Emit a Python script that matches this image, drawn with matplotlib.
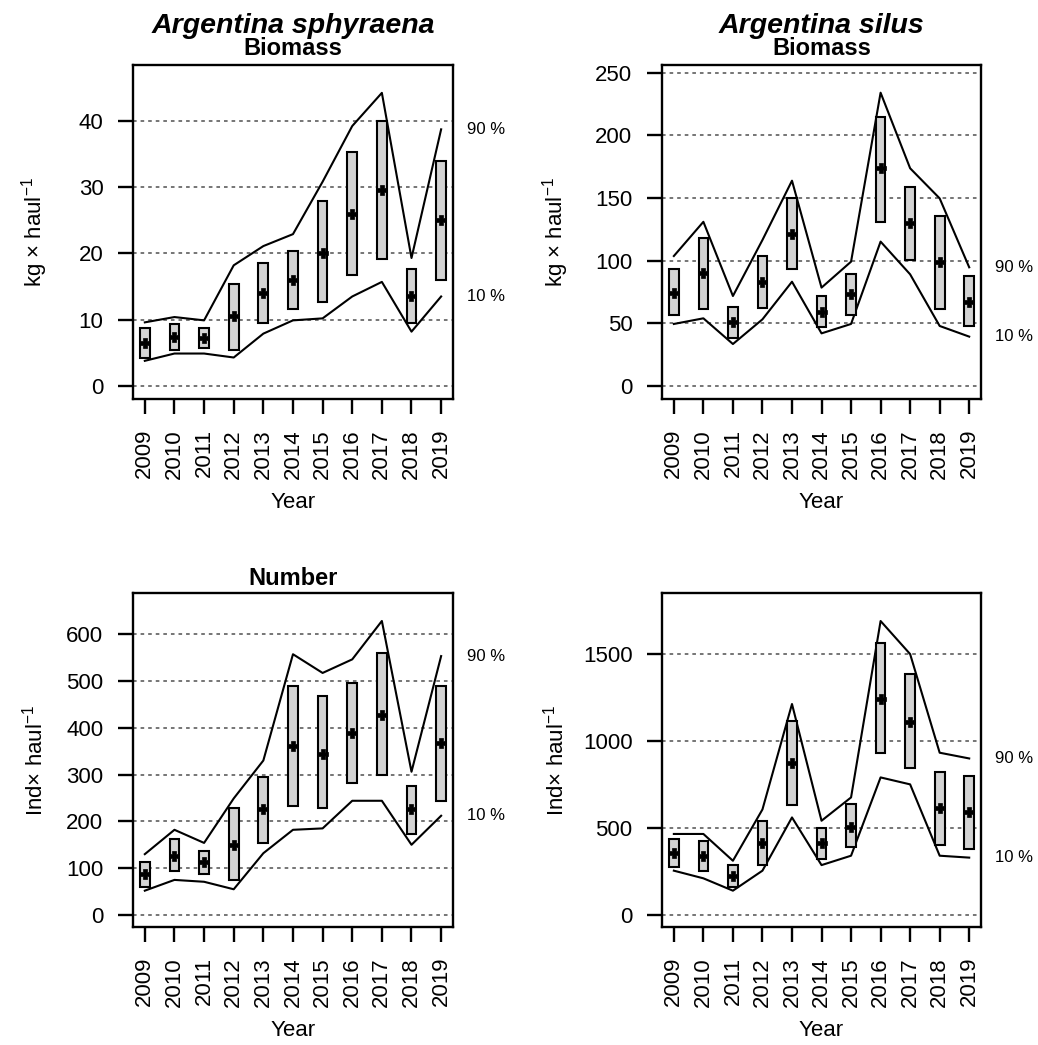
import matplotlib
matplotlib.use("Agg")
import matplotlib.pyplot as plt
import matplotlib.transforms as mtransforms
import numpy as np

plt.rcParams['font.family'] = ['Liberation Sans', 'DejaVu Sans']
plt.rcParams['mathtext.fontset'] = 'custom'
plt.rcParams['mathtext.rm'] = 'Liberation Sans'
plt.rcParams['mathtext.it'] = 'Liberation Sans:italic'
plt.rcParams['mathtext.bf'] = 'Liberation Sans:bold'

years = np.arange(2009, 2020)

# Argentina sphyraena, biomass (kg per haul)
sph_bio_mean = [6.5, 7.4, 7.2, 10.5, 14.1, 16.0, 20.1, 25.9, 29.5, 13.5, 25.0]
sph_bio_lo = [4.3, 5.4, 5.7, 5.4, 9.5, 11.6, 12.6, 16.8, 19.2, 9.5, 16.0]
sph_bio_hi = [8.8, 9.3, 8.8, 15.4, 18.5, 20.4, 27.9, 35.3, 40.0, 17.6, 34.0]
sph_bio_p10 = [3.8, 4.9, 4.9, 4.3, 7.9, 9.9, 10.2, 13.5, 15.7, 8.2, 13.5]
sph_bio_p90 = [9.6, 10.4, 9.9, 18.2, 21.1, 22.9, 30.8, 39.2, 44.2, 19.3, 38.7]

# Argentina silus, biomass (kg per haul)
sil_bio_mean = [74.5, 90.4, 51.3, 83.2, 121.3, 59.3, 73.1, 173.7, 130.3, 99.2, 67.3]
sil_bio_lo = [56.6, 61.2, 38.0, 62.5, 93.4, 46.8, 56.6, 131.1, 100.5, 61.2, 48.1]
sil_bio_hi = [93.4, 118.4, 62.8, 103.7, 150.3, 71.8, 89.1, 214.9, 159.0, 135.9, 87.8]
sil_bio_p10 = [49.5, 54.0, 33.5, 53.2, 83.2, 42.0, 49.5, 115.2, 89.1, 47.9, 39.4]
sil_bio_p90 = [103.7, 131.0, 71.8, 116.5, 163.8, 78.5, 99.2, 234.0, 173.7, 149.7, 94.7]

# Argentina sphyraena, number (individuals per haul)
sph_num_mean = [87, 127, 114, 150, 226, 361, 344, 389, 428, 226, 367]
sph_num_lo = [59, 94, 87, 75, 153, 233, 228, 283, 298, 173, 244]
sph_num_hi = [114, 162, 137, 228, 294, 490, 468, 495, 560, 275, 490]
sph_num_p10 = [52, 75, 71, 55, 132, 182, 185, 244, 244, 150, 212]
sph_num_p90 = [130, 182, 154, 249, 330, 557, 517, 546, 628, 306, 553]

# Argentina silus, number (individuals per haul)
sil_num_mean = [354, 341, 226, 416, 876, 416, 508, 1241, 1111, 613, 594]
sil_num_lo = [274, 255, 159, 287, 632, 320, 393, 929, 843, 402, 379]
sil_num_hi = [435, 425, 287, 540, 1117, 498, 636, 1561, 1383, 824, 801]
sil_num_p10 = [255, 211, 140, 255, 561, 287, 341, 791, 751, 341, 330]
sil_num_p90 = [466, 466, 312, 607, 1213, 542, 676, 1690, 1500, 933, 900]

panels = [
    dict(pos=[0.1281, 0.6179, 0.3083, 0.3199], ylim=(-2.0, 48.4), yticks=[0, 10, 20, 30, 40],
         mean=sph_bio_mean, lo=sph_bio_lo, hi=sph_bio_hi, p10=sph_bio_p10, p90=sph_bio_p90),
    dict(pos=[0.6378, 0.6179, 0.3073, 0.3199], ylim=(-10.6, 256.1), yticks=[0, 50, 100, 150, 200, 250],
         mean=sil_bio_mean, lo=sil_bio_lo, hi=sil_bio_hi, p10=sil_bio_p10, p90=sil_bio_p90),
    dict(pos=[0.1281, 0.1126, 0.3083, 0.3196], ylim=(-26.3, 687), yticks=[0, 100, 200, 300, 400, 500, 600],
         mean=sph_num_mean, lo=sph_num_lo, hi=sph_num_hi, p10=sph_num_p10, p90=sph_num_p90),
    dict(pos=[0.6378, 0.1126, 0.3073, 0.3196], ylim=(-70.7, 1849), yticks=[0, 500, 1000, 1500],
         mean=sil_num_mean, lo=sil_num_lo, hi=sil_num_hi, p10=sil_num_p10, p90=sil_num_p90),
]

fig = plt.figure(figsize=(10.38, 10.45), dpi=100)

for p in panels:
    ax = fig.add_axes(p['pos'])
    lo = np.array(p['lo'])
    hi = np.array(p['hi'])
    for yt in p['yticks']:
        ax.axhline(yt, color='#6a6a6a', lw=1.3, ls=(0, (2, 2.2)), zorder=1)
    ax.plot(years, p['p90'], color='black', lw=1.5, zorder=2)
    ax.plot(years, p['p10'], color='black', lw=1.5, zorder=2)
    ax.bar(years, hi - lo, bottom=lo, width=0.33, color='#d3d3d3',
           edgecolor='black', lw=1.5, zorder=3)
    ax.plot(years, p['mean'], ls='none', marker='P', ms=7.5, color='black',
            mec='black', mew=0.5, zorder=4)

    ax.set_xlim(2008.6, 2019.4)
    ax.set_ylim(*p['ylim'])
    ax.set_yticks(p['yticks'])
    ax.set_xticks(years)
    ax.set_xticklabels([str(y) for y in years], rotation=90, va='top')
    ax.tick_params(axis='both', direction='out', length=10.8, width=1.7,
                   labelsize=16, pad=10.5)
    for s in ax.spines.values():
        s.set_linewidth(1.7)
    ax.set_xlabel('Year', fontsize=16, labelpad=10)

    # percentile labels beside the last year
    trans = mtransforms.blended_transform_factory(ax.transAxes, ax.transData)
    ax.text(1.045, p['p90'][-1], '90 %', transform=trans, fontsize=12,
            va='center', ha='left', clip_on=False)
    ax.text(1.045, p['p10'][-1], '10 %', transform=trans, fontsize=12,
            va='center', ha='left', clip_on=False)

# titles and axis labels
fig.text(0.2822, 0.9687, 'Argentina sphyraena', fontsize=20.5, fontweight='bold',
         fontstyle='italic', ha='center', va='baseline')
fig.text(0.7914, 0.9687, 'Argentina silus', fontsize=20.5, fontweight='bold',
         fontstyle='italic', ha='center', va='baseline')
fig.text(0.2822, 0.9475, 'Biomass', fontsize=17, fontweight='bold', ha='center', va='baseline')
fig.text(0.7914, 0.9475, 'Biomass', fontsize=17, fontweight='bold', ha='center', va='baseline')
fig.text(0.2822, 0.4402, 'Number', fontsize=17, fontweight='bold', ha='center', va='baseline')

fig.text(0.0337, 0.7779, r'kg $\times$ haul$^{-1}$', fontsize=16, rotation=90, ha='center', va='center')
fig.text(0.5356, 0.7779, r'kg $\times$ haul$^{-1}$', fontsize=16, rotation=90, ha='center', va='center')
fig.text(0.0337, 0.2724, r'Ind$\times$ haul$^{-1}$', fontsize=16, rotation=90, ha='center', va='center')
fig.text(0.5356, 0.2724, r'Ind$\times$ haul$^{-1}$', fontsize=16, rotation=90, ha='center', va='center')

fig.savefig('out.png', dpi=100)
